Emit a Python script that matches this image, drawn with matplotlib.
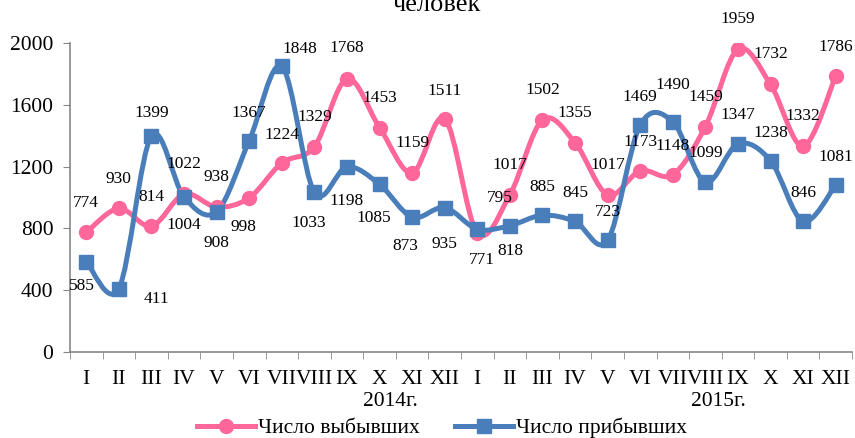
import numpy as np
import matplotlib
matplotlib.use("Agg")
import matplotlib.pyplot as plt
from matplotlib.path import Path
from matplotlib.patches import PathPatch
from matplotlib.lines import Line2D
from matplotlib.transforms import blended_transform_factory

plt.rcParams['font.family'] = ['Liberation Serif', 'DejaVu Serif']

# data
months = ["I", "II", "III", "IV", "V", "VI", "VII", "VIII", "IX", "X", "XI", "XII"] * 2
years = ["2014г.", "2015г."]
left_out = [774, 930, 814, 1022, 938, 998, 1224, 1329, 1768, 1453, 1159, 1511,
            771, 1017, 1502, 1355, 1017, 1173, 1148, 1459, 1959, 1732, 1332, 1786]
arrived = [585, 411, 1399, 1004, 908, 1367, 1848, 1033, 1198, 1085, 873, 935,
           795, 818, 885, 845, 723, 1469, 1490, 1099, 1347, 1238, 846, 1081]

# label offsets in pixels (dx, dy), screen y goes up
off_left = [(0, 29), (0, 29), (0, 29), (0, 30), (0, 30), (-6, -29), (0, 28), (0, 30),
            (0, 31), (0, 30), (0, 30), (0, 28),
            (5, -27), (0, 30), (0, 30), (0, 30), (0, 30), (0, 29), (0, 29), (0, 30),
            (0, 30), (0, 30), (0, 30), (0, 29)]
off_arr = [(-4, -24), (38, -10), (0, 23), (0, -28), (0, -31), (0, 28), (18, 17), (-6, -31),
           (0, -34), (-6, -34), (-7, -29), (0, -36),
           (23, 31), (0, -25), (0, 28), (0, 28), (0, 28), (0, 28), (0, 37), (0, 29),
           (0, 29), (0, 28), (0, 28), (0, 28)]

PINK = "#FF6699"
BLUE = "#4A7EBB"


def smooth_path(x, y):
    # excel-like smoothed line: cubic bezier through the points
    pts = np.column_stack([x, y]).astype(float)
    n = len(pts)
    verts = [pts[0]]
    codes = [Path.MOVETO]
    for i in range(n - 1):
        p0 = pts[i - 1] if i > 0 else pts[i]
        p1 = pts[i]
        p2 = pts[i + 1]
        p3 = pts[i + 2] if i + 2 < n else pts[i + 1]
        c1 = p1 + (p2 - p0) / 6.0
        c2 = p2 - (p3 - p1) / 6.0
        verts += [c1, c2, p2]
        codes += [Path.CURVE4] * 3
    return Path(verts, codes)


fig = plt.figure(figsize=(8.55, 4.38), dpi=100)
ax = fig.add_axes([70 / 855, 86 / 438, 782 / 855, 309 / 438])

x = np.arange(len(months))
for vals, col, mk, offs in [(left_out, PINK, 'o', off_left), (arrived, BLUE, 's', off_arr)]:
    ax.add_patch(PathPatch(smooth_path(x, vals), facecolor='none', edgecolor=col,
                           lw=3.6, capstyle='round', joinstyle='round', zorder=2))
    ax.plot(x, vals, linestyle='none', marker=mk, markersize=10, color=col, zorder=3)
    for xi, v, (dx, dy) in zip(x, vals, offs):
        ax.annotate(str(v), (xi, v), xytext=(dx, dy), textcoords='offset pixels',
                    ha='center', va='center', fontsize=12.5, zorder=4)

ax.set_xlim(-0.5, len(months) - 0.5)
ax.set_ylim(0, 2000)
ax.set_yticks(np.arange(0, 2001, 400))
ax.set_xticks(x)
ax.set_xticklabels(months)
ax.set_xticks(np.arange(-0.5, len(months), 1), minor=True)
ax.tick_params(axis='x', which='major', length=0, pad=13, labelsize=15.5)
ax.tick_params(axis='x', which='minor', length=5, color='#868686')
ax.tick_params(axis='y', length=5, color='#868686', labelsize=15.5, pad=7)
for s in ['top', 'right']:
    ax.spines[s].set_visible(False)
for s in ['left', 'bottom']:
    ax.spines[s].set_color('#868686')
    ax.spines[s].set_linewidth(1.2)

trans = blended_transform_factory(ax.transData, fig.transFigure)
ax.text(9.33, 1 - 402 / 438, years[0], transform=trans, ha='center', va='center', fontsize=15.5)
ax.text(19.4, 1 - 402 / 438, years[1], transform=trans, ha='center', va='center', fontsize=15.5)

fig.text(437 / 855, 1 - 11 / 438, "человек", ha='center', va='baseline', fontsize=19)

handles = [Line2D([], [], color=PINK, lw=3.6, marker='o', markersize=10),
           Line2D([], [], color=BLUE, lw=3.6, marker='s', markersize=10)]
fig.legend(handles, ["Число выбывших", "Число прибывших"], loc='center',
           bbox_to_anchor=(442 / 855, 1 - 428 / 438), ncol=2, frameon=False,
           fontsize=15.5, handlelength=2.7, handletextpad=0.15, columnspacing=1.6)

fig.savefig("out.png", dpi=100)
